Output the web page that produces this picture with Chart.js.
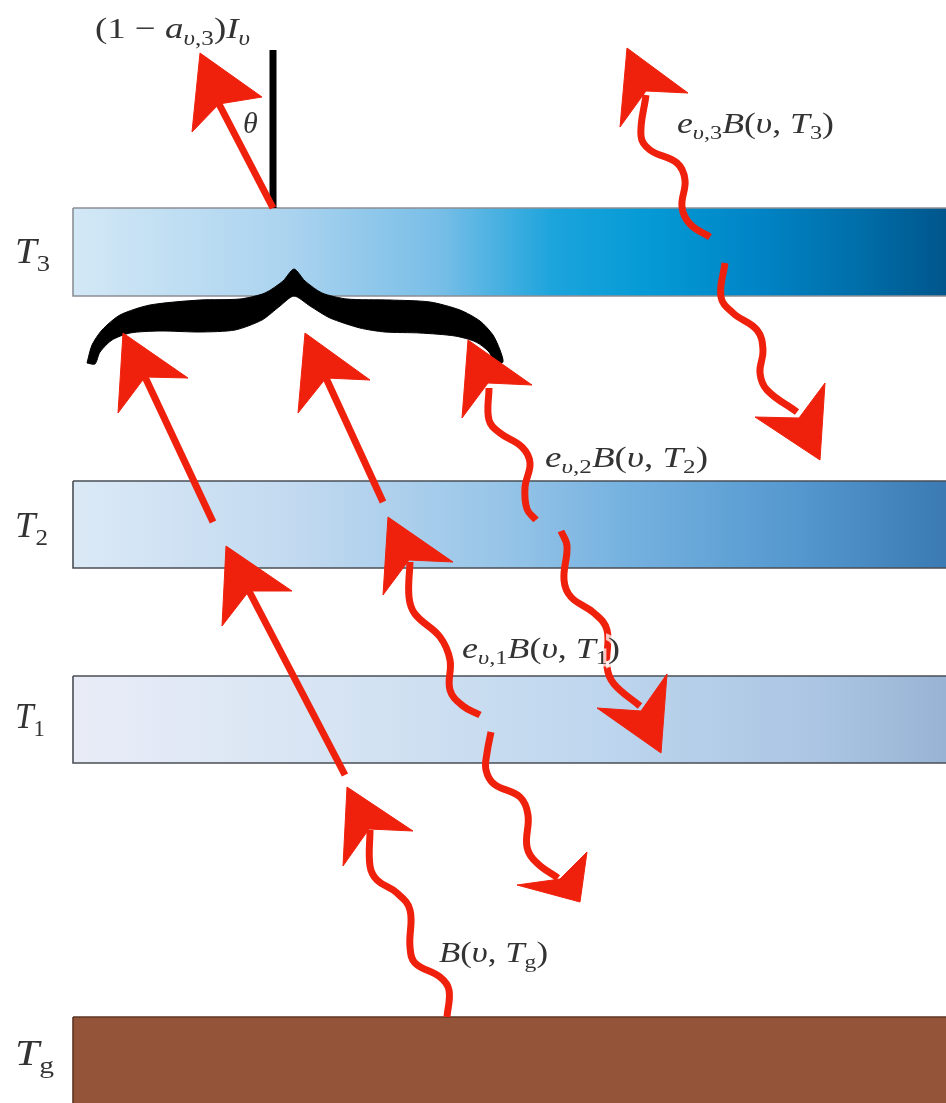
<!DOCTYPE html>
<html lang="en">
<head>
    <meta charset="UTF-8">
    <title>Radiation through atmospheric layers</title>
    <script src="https://cdn.jsdelivr.net/npm/chart.js"></script>
    <style>
        html, body { margin: 0; padding: 0; background: #ffffff; }
        .chart-container { width: 946px; height: 1103px; }
    </style>
</head>
<body>
    <div class="chart-container">
        <canvas id="layerChart"></canvas>
    </div>

    <script>
        // diagram units: x 0..946 left to right, y 0..1103 top to bottom
        const layerNames = ['T3', 'T2', 'T1', 'Tg'];
        const layerTop = [208, 481, 676, 1017];
        const layerBottom = [296, 568, 763, 1110];
        const layerLeft = 73;
        const layerRight = 960;

        // vertical normal above T3
        const normalLine = [[273, 50], [273, 208]];

        // straight rays (start -> where the head begins)
        const straightRays = [
            [[273, 208], [219, 104]],
            [[213, 522], [145, 377]],
            [[383, 502], [326, 378]],
            [[345, 775], [249, 591]]
        ];

        // wavy emission rays
        const waveT3Up = [[710, 237], [690, 224], [682, 207], [685, 180], [677, 163], [650, 150], [641, 136], [646, 95]];
        const waveT3Down = [[725, 263], [721, 297], [733, 313], [757, 330], [763, 350], [760, 373], [767, 390], [797, 412]];
        const waveT2Up = [[536, 520], [527, 509], [525, 487], [530, 463], [522, 447], [500, 433], [489, 420], [489, 388]];
        const waveT2Down = [[561, 531], [567, 546], [564, 580], [571, 597], [594, 613], [607, 630], [607, 667], [614, 684], [640, 706]];
        const waveT1Up = [[480, 715], [463, 706], [450, 690], [450, 660], [440, 637], [415, 614], [409, 597], [410, 562]];
        const waveT1Down = [[491, 732], [487, 753], [486, 770], [494, 784], [520, 797], [528, 815], [527, 847], [537, 863], [558, 878]];
        const waveGround = [[447, 1017], [449, 990], [440, 977], [415, 963], [410, 947], [410, 910], [397, 893], [377, 880], [370, 866], [370, 830]];

        // arrow heads: tip, wing, notch, wing
        const arrowHeads = [
            [[200, 53], [192, 132], [219, 104], [262, 97]],
            [[123, 333], [118, 413], [145, 377], [188, 378]],
            [[305, 333], [298, 413], [326, 378], [370, 380]],
            [[226, 546], [222, 626], [249, 591], [292, 591]],
            [[347, 787], [343, 866], [369, 829], [413, 831]],
            [[388, 517], [383, 595], [409, 560], [453, 562]],
            [[468, 340], [462, 418], [488, 383], [532, 385]],
            [[627, 48], [620, 127], [646, 91], [688, 93]],
            [[820, 460], [755, 417], [799, 418], [825, 383]],
            [[661, 753], [597, 708], [641, 711], [667, 674]],
            [[580, 902], [517, 885], [560, 879], [587, 852]]
        ];

        // curly brace outline
        const braceOutline = [
            [87, 363], [92, 345], [102, 330], [120, 315], [150, 305], [200, 300], [240, 299], [265, 293], [283, 281], [294, 269],
            [305, 281], [322, 293], [347, 299], [390, 300], [430, 302], [460, 310], [480, 321], [493, 335], [500, 350], [503, 362],
            [495, 364], [489, 352], [476, 342], [455, 336], [420, 333], [385, 332], [360, 328], [330, 318], [310, 306], [294, 296],
            [280, 306], [262, 320], [235, 330], [200, 332], [160, 331], [130, 333], [112, 340], [100, 352], [95, 364], [87, 363]
        ];

        const toXY = pts => pts.map(([x, y]) => ({ x, y }));

        const RED = '#ef210d';
        const gradientStops = [
            [[0, '#d3e8f6'], [0.25, '#aad3ef'], [0.42, '#78bee7'], [0.55, '#1ca4dc'], [0.66, '#049ad5'], [0.78, '#0085c7'], [0.9, '#006ea9'], [1, '#00568c']],
            [[0, '#dbe9f6'], [0.26, '#c1d9f0'], [0.49, '#97c5e8'], [0.63, '#76b2e0'], [0.83, '#5498cf'], [1, '#3b7ab2']],
            [[0, '#e9ecf7'], [0.3, '#d6e4f3'], [0.6, '#bed6ee'], [0.85, '#abc5e3'], [1, '#99b3d5']],
            [[0, '#93543a'], [1, '#93543a']]
        ];
        const layerEdge = ['#8a8f94', '#4a4f55', '#4a4f55', '#5c3626'];

        function layerGradient(chart, i) {
            const area = chart.chartArea;
            if (!area) return gradientStops[i][0][1];
            const x0 = chart.scales.x.getPixelForValue(layerLeft);
            const x1 = chart.scales.x.getPixelForValue(946);
            const g = chart.ctx.createLinearGradient(x0, 0, x1, 0);
            gradientStops[i].forEach(([p, c]) => g.addColorStop(p, c));
            return g;
        }

        const datasets = [];

        layerNames.forEach((name, i) => {
            datasets.push({
                label: name,
                data: toXY([[layerLeft, layerTop[i]], [layerRight, layerTop[i]], [layerRight, layerBottom[i]],
                            [layerLeft, layerBottom[i]], [layerLeft, layerTop[i]]]),
                fill: 'shape',
                backgroundColor: ctx => layerGradient(ctx.chart, i),
                borderColor: layerEdge[i],
                borderWidth: 1.6,
                tension: 0,
                order: 10
            });
        });

        datasets.push({
            label: 'brace',
            data: toXY(braceOutline),
            fill: 'shape',
            backgroundColor: '#000000',
            borderColor: '#000000',
            borderWidth: 1,
            tension: 0.25,
            order: 6
        });

        datasets.push({
            label: 'normal',
            data: toXY(normalLine),
            borderColor: '#000000',
            borderWidth: 7,
            fill: false,
            order: 5
        });

        straightRays.forEach((ray, i) => {
            datasets.push({
                label: 'ray' + i,
                data: toXY(ray),
                borderColor: RED,
                borderWidth: 7,
                fill: false,
                order: 3
            });
        });

        [waveT3Up, waveT3Down, waveT2Up, waveT2Down, waveT1Up, waveT1Down, waveGround].forEach((w, i) => {
            datasets.push({
                label: 'wave' + i,
                data: toXY(w),
                borderColor: RED,
                borderWidth: 7,
                borderJoinStyle: 'round',
                tension: 0.4,
                fill: false,
                order: 3
            });
        });

        arrowHeads.forEach((head, i) => {
            datasets.push({
                label: 'head' + i,
                data: toXY(head.concat([head[0]])),
                fill: 'shape',
                backgroundColor: RED,
                borderColor: RED,
                borderWidth: 1,
                tension: 0,
                order: 1
            });
        });

        // text labels: pieces are [text, italic, subscript]
        const labelTexts = [
            [['(1 − ', 0, 0], ['a', 1, 0], ['υ', 1, 1], [',3', 0, 1], [')', 0, 0], ['I', 1, 0], ['υ', 1, 1]],
            [['θ', 1, 0]],
            [['e', 1, 0], ['υ', 1, 1], [',3', 0, 1], ['B', 1, 0], ['(', 0, 0], ['υ', 1, 0], [', ', 0, 0], ['T', 1, 0], ['3', 0, 1], [')', 0, 0]],
            [['e', 1, 0], ['υ', 1, 1], [',2', 0, 1], ['B', 1, 0], ['(', 0, 0], ['υ', 1, 0], [', ', 0, 0], ['T', 1, 0], ['2', 0, 1], [')', 0, 0]],
            [['e', 1, 0], ['υ', 1, 1], [',1', 0, 1], ['B', 1, 0], ['(', 0, 0], ['υ', 1, 0], [', ', 0, 0], ['T', 1, 0], ['1', 0, 1], [')', 0, 0]],
            [['B', 1, 0], ['(', 0, 0], ['υ', 1, 0], [', ', 0, 0], ['T', 1, 0], ['g', 0, 1], [')', 0, 0]],
            [['T', 1, 0], ['3', 0, 1]],
            [['T', 1, 0], ['2', 0, 1]],
            [['T', 1, 0], ['1', 0, 1]],
            [['T', 1, 0], ['g', 0, 1]]
        ];
        const labelAnchors = [[95, 38], [243, 133], [677, 133], [545, 467], [462, 658], [439, 962], [15, 263], [15, 537], [15, 728], [15, 1065]];
        const labelWidths = [155, 0, 157, 163, 158, 109, 35, 33, 30, 39];
        const labelSizes = [30, 30, 29, 29, 29, 29, 35, 35, 35, 35];

        const FONT = '"Liberation Serif", "DejaVu Serif", serif';

        function pieceFont(piece, size) {
            const s = piece[2] ? size * 0.68 : size;
            return (piece[1] ? 'italic ' : '') + s.toFixed(1) + 'px ' + FONT;
        }

        const labelPlugin = {
            id: 'diagramLabels',
            afterDatasetsDraw(chart) {
                const { ctx, scales } = chart;
                ctx.save();
                ctx.fillStyle = '#333333';
                ctx.textBaseline = 'alphabetic';
                labelTexts.forEach((pieces, i) => {
                    const size = labelSizes[i];
                    let total = 0;
                    pieces.forEach(p => { ctx.font = pieceFont(p, size); total += ctx.measureText(p[0]).width; });
                    const sx = labelWidths[i] ? labelWidths[i] / total : 1;
                    const px = scales.x.getPixelForValue(labelAnchors[i][0]);
                    const py = scales.y.getPixelForValue(labelAnchors[i][1]);
                    ctx.save();
                    ctx.translate(px, py);
                    ctx.scale(sx, 1);
                    let cx = 0;
                    pieces.forEach(p => {
                        ctx.font = pieceFont(p, size);
                        const dy = p[2] ? size * 0.22 : 0;
                        if (i === 4) {
                            ctx.strokeStyle = 'rgba(255,255,255,0.75)';
                            ctx.lineWidth = 5;
                            ctx.strokeText(p[0], cx, dy);
                        }
                        ctx.fillText(p[0], cx, dy);
                        cx += ctx.measureText(p[0]).width;
                    });
                    ctx.restore();
                });
                ctx.restore();
            }
        };

        const chart = new Chart(document.getElementById('layerChart'), {
            type: 'line',
            data: { datasets: datasets },
            options: {
                responsive: true,
                maintainAspectRatio: false,
                animation: false,
                events: [],
                layout: { padding: 0 },
                elements: { point: { radius: 0, hitRadius: 0 } },
                scales: {
                    x: { type: 'linear', min: 0, max: 946, display: false },
                    y: { type: 'linear', min: 0, max: 1103, reverse: true, display: false }
                },
                plugins: {
                    legend: { display: false },
                    tooltip: { enabled: false }
                }
            },
            plugins: [labelPlugin]
        });
    </script>
</body>
</html>
